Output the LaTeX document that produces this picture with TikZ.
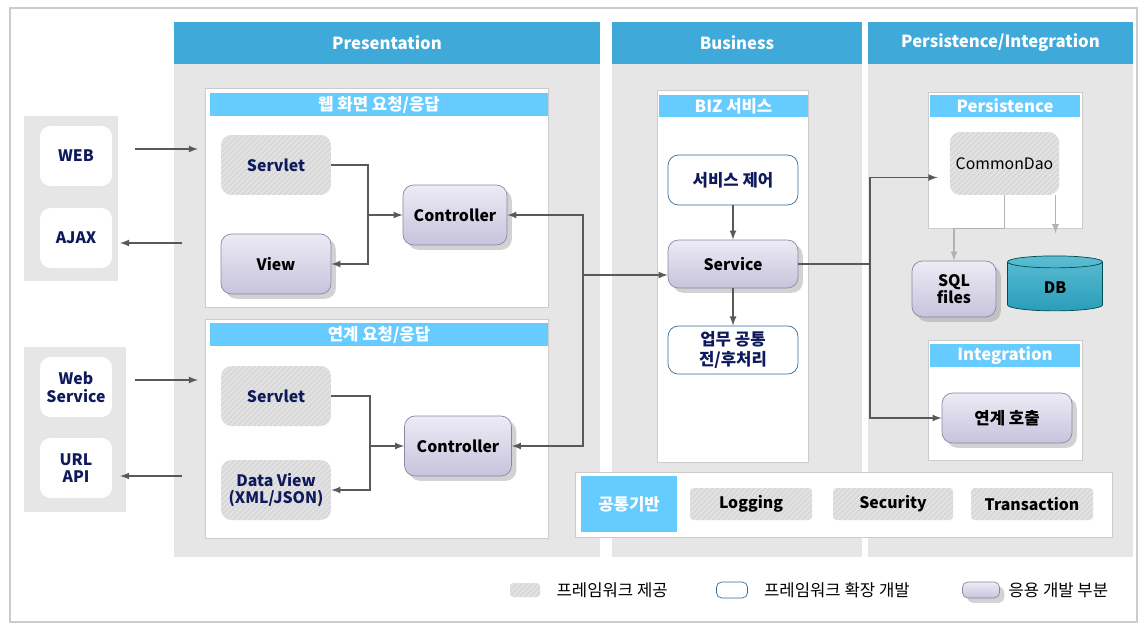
\documentclass[tikz,border=0pt]{standalone}
\usepackage{fontspec}
\setmainfont{Noto Sans CJK KR}
\usepackage{xcolor}
\usepackage{tikz}
\usetikzlibrary{arrows, positioning, calc, patterns, shadows, shapes.geometric}
\definecolor{hdrblue}{HTML}{3FA9D9}
\definecolor{barblue}{HTML}{66CCFF}
\definecolor{colgray}{HTML}{E6E6E6}
\definecolor{navy}{HTML}{0F1A5C}
\definecolor{lineblue}{HTML}{2F6C9E}
\definecolor{lavtop}{HTML}{EDEBF5}
\definecolor{lavbot}{HTML}{C7C3DC}
\definecolor{lavline}{HTML}{8A86A6}
\definecolor{dbtop}{HTML}{5BBDD3}
\definecolor{dbbot}{HTML}{2A9DBA}
\tikzstyle{header} = [fill=hdrblue, text=white, font=\fontsize{9.5}{11}\selectfont\bfseries, inner sep=0pt]
\tikzstyle{bar} = [fill=barblue, text=white, font=\fontsize{9.5}{10}\selectfont\bfseries, inner sep=0pt]
\tikzstyle{fw} = [rounded corners=6pt, fill=gray!30, postaction={pattern=north east lines, pattern color=gray!15}, text=navy, font=\fontsize{9}{10}\selectfont\bfseries, align=center]
\tikzstyle{app} = [rounded corners=6pt, draw=lavline, top color=lavtop, bottom color=lavbot, drop shadow={opacity=0.35}, font=\fontsize{9}{10}\selectfont\bfseries, align=center]
\tikzstyle{ext} = [rounded corners=6pt, draw=lineblue, fill=white, text=navy, font=\fontsize{9.5}{11}\selectfont\bfseries, align=center]
\tikzstyle{client} = [rounded corners=6pt, fill=white, text=navy, minimum width=1.44cm, minimum height=1.2cm, font=\fontsize{9}{10}\selectfont\bfseries, align=center]
\tikzstyle{arrow} = [draw=black!65, thick, -latex]
\tikzstyle{light} = [draw=gray!60, thick, -latex]

\begin{document}
\begin{tikzpicture}[x=0.02cm, y=-0.02cm]
    \useasboundingbox (0,0) rectangle (1145,629);
    \draw[gray!40, line width=1.5pt] (10,8) rectangle (1137,622);

    % Columns
    \fill[colgray] (174,64) rectangle (600,557);
    \fill[colgray] (612,64) rectangle (862,557);
    \fill[colgray] (868,64) rectangle (1133,557);
    \node[header, minimum width=8.52cm, minimum height=0.84cm] (pres) at (387,43) {Presentation};
    \node[header, minimum width=5cm, minimum height=0.84cm] (biz) at (737,43) {Business};
    \node[header, minimum width=5.3cm, minimum height=0.84cm] (pers) at (1000.5,43) {Persistence/Integration};

    % Clients
    \fill[colgray] (24,116) rectangle (118,281);
    \fill[colgray] (24,347) rectangle (126,512);
    \node[client] (web) at (76,156) {WEB};
    \node[client] (ajax) at (76,238) {AJAX};
    \node[client] (ws) at (76,387) {Web\\Service};
    \node[client] (url) at (76,468) {URL\\API};

    % Presentation panels
    \draw[gray!40, fill=white] (205,88) rectangle (548,307);
    \node[bar, minimum width=6.76cm, minimum height=0.46cm] (webbar) at (379,104.5) {웹 화면 요청/응답};
    \node[fw, minimum width=2.2cm, minimum height=1.2cm] (servlet1) at (276,165) {Servlet};
    \node[app, minimum width=2.2cm, minimum height=1.2cm] (view) at (276,264) {View};
    \node[app, minimum width=2.08cm, minimum height=1.2cm] (ctrl1) at (455,215) {Controller};

    \draw[gray!40, fill=white] (205,319) rectangle (548,538);
    \node[bar, minimum width=6.76cm, minimum height=0.46cm] (linkbar) at (379,334.5) {연계 요청/응답};
    \node[fw, minimum width=2.2cm, minimum height=1.2cm] (servlet2) at (276,396) {Servlet};
    \node[fw, minimum width=2.2cm, minimum height=1.2cm] (dview) at (276,490) {Data View\\(XML/JSON)};
    \node[app, minimum width=2.14cm, minimum height=1.2cm] (ctrl2) at (458,446) {Controller};

    % Business panel
    \draw[gray!40, fill=white] (657,90) rectangle (808,462);
    \node[bar, minimum width=2.98cm, minimum height=0.44cm] (bizbar) at (733.5,106) {BIZ 서비스};
    \node[ext, minimum width=2.6cm, minimum height=1cm] (svcctl) at (733,180) {서비스 제어};
    \node[app, minimum width=2.6cm, minimum height=0.96cm] (service) at (733,264) {Service};
    \node[ext, minimum width=2.6cm, minimum height=0.96cm] (common) at (733,350) {업무 공통\\전/후처리};

    % Common base
    \draw[gray!40, fill=white] (575,472) rectangle (1112,537);
    \node[fill=barblue, text=white, font=\fontsize{9.5}{10}\selectfont\bfseries, minimum width=1.92cm, minimum height=1.12cm] (base) at (629,504) {공통기반};
    \node[fw, rounded corners=2pt, text=black, minimum width=2.44cm, minimum height=0.64cm] (logging) at (751,504) {Logging};
    \node[fw, rounded corners=2pt, text=black, minimum width=2.4cm, minimum height=0.64cm] (security) at (893,504) {Security};
    \node[fw, rounded corners=2pt, text=black, minimum width=2.44cm, minimum height=0.64cm] (trans) at (1032,504) {Transaction};

    % Persistence / Integration
    \draw[gray!40, fill=white] (928,92) rectangle (1082,228);
    \node[bar, minimum width=3cm, minimum height=0.44cm] (persbar) at (1005,106) {Persistence};
    \node[fw, text=black, font=\fontsize{9}{10}\selectfont, minimum width=2.14cm, minimum height=1.26cm] (dao) at (1004.5,163.5) {CommonDao};
    \node[app, minimum width=1.68cm, minimum height=1.12cm] (sql) at (954,289) {SQL\\files};
    \node[cylinder, shape border rotate=90, aspect=0.35, draw=teal!60!black, top color=dbtop, bottom color=dbbot, minimum width=1.9cm, minimum height=1.1cm, font=\fontsize{9}{10}\selectfont\bfseries] (db) at (1055,288) {DB};
    \draw[gray!40, fill=white] (928,340) rectangle (1082,460);
    \node[bar, minimum width=3cm, minimum height=0.46cm] (intbar) at (1005,355.5) {Integration};
    \node[app, font=\fontsize{9.5}{11}\selectfont\bfseries, minimum width=2.6cm, minimum height=1cm] (call) at (1007,418) {연계 호출};

    % Connectors
    \coordinate (webin) at (198,149);
    \coordinate (ajaxout) at (182,243);
    \coordinate (wsin) at (198,380);
    \coordinate (urlout) at (182,476);
    \draw[arrow] (web.east |- webin) ++(23,0) -- (webin);
    \draw[arrow] (ajaxout) -- ++(-62,0);
    \draw[arrow] (ws.east |- wsin) ++(23,0) -- (wsin);
    \draw[arrow] (urlout) -- ++(-62,0);

    \coordinate (j1) at (368,215);
    \draw[arrow] (servlet1.east) -| (j1) -- (ctrl1.west);
    \draw[arrow] (j1) |- (view.east);
    \coordinate (j2) at (370,446);
    \draw[arrow] (servlet2.east) -| (j2) -- (ctrl2.west);
    \draw[arrow] (j2) |- (dview.east);

    \coordinate (bus) at (583,275);
    \draw[arrow] (bus) |- (ctrl1.east);
    \draw[arrow] (bus) |- (ctrl2.east);
    \draw[arrow] (bus) -- (service.west |- bus);

    \draw[arrow] (svcctl) -- (service);
    \draw[arrow] (service) -- (common);

    \coordinate (k) at (870,264);
    \draw[arrow] (service.east) -- (k) |- ($(dao.west)+(-12,14)$);
    \draw[arrow] (k) |- (call.west);

    \draw[light] (dao.south) -- ++(0,33) -| (sql.north);
    \draw[light] ($(dao.south east)+(-4,0)$) -- ++(0,38);

    % Legend
    \node[fw, rounded corners=2pt, minimum width=0.6cm, minimum height=0.28cm] (leg1) at (525,590) {};
    \node[right=0.2cm of leg1, font=\fontsize{9.5}{10}\selectfont] (leg1t) {프레임워크 제공};
    \node[ext, rounded corners=3pt, minimum width=0.62cm, minimum height=0.32cm] (leg2) at (732,590) {};
    \node[right=0.2cm of leg2, font=\fontsize{9.5}{10}\selectfont] (leg2t) {프레임워크 확장 개발};
    \node[app, rounded corners=3pt, minimum width=0.74cm, minimum height=0.32cm] (leg3) at (981,590) {};
    \node[right=0.05cm of leg3, font=\fontsize{9.5}{10}\selectfont] (leg3t) {응용 개발 부분};
\end{tikzpicture}
\end{document}
